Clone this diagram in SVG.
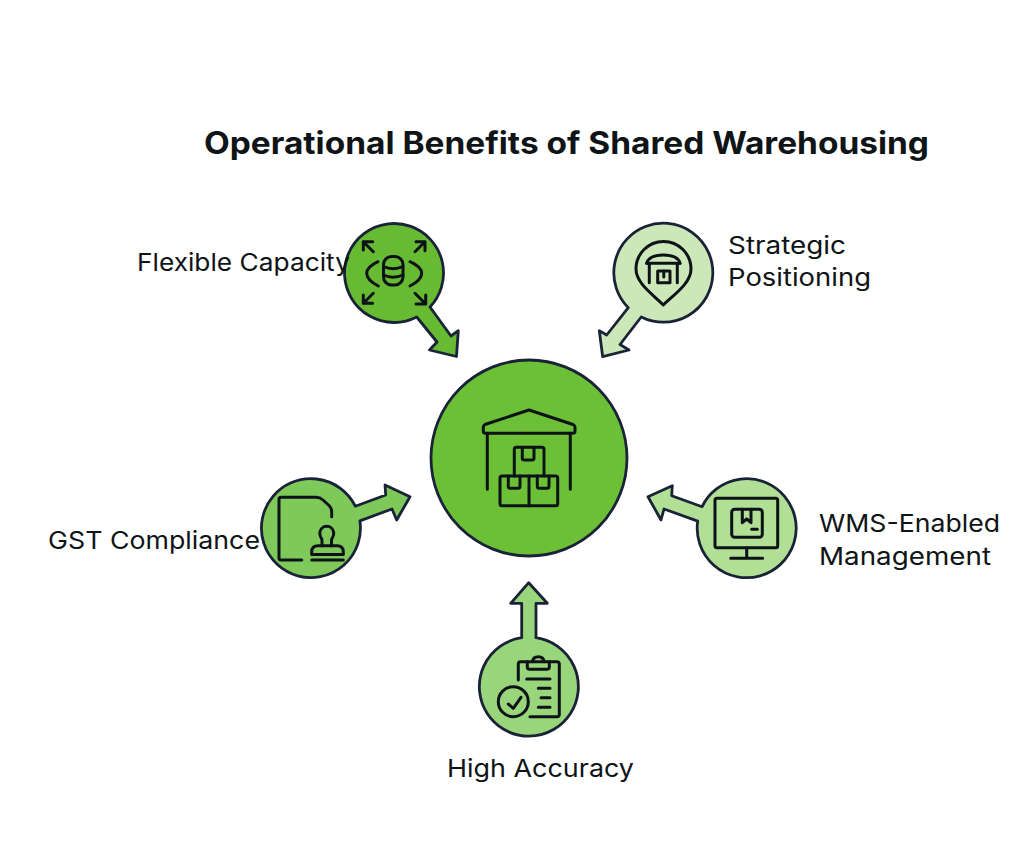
<svg xmlns="http://www.w3.org/2000/svg" width="1024" height="848" viewBox="0 0 1024 848">
<style>
.shape{stroke:#1a2238;stroke-width:2.8;stroke-linejoin:round}
.icon{fill:none;stroke:#0d1218;stroke-width:3;stroke-linecap:round;stroke-linejoin:round}
text{font-family:"Inter","Noto Sans","Liberation Sans",sans-serif;fill:#0f1416}
.label{font-size:24.5px;font-weight:400}
.title{font-size:31px;font-weight:700}
</style>
<rect width="1024" height="848" fill="#ffffff"/>
<text class="title" x="204" y="154" textLength="725" lengthAdjust="spacingAndGlyphs">Operational Benefits of Shared Warehousing</text>
<g id="connectors"></g>
<g id="node-center">
<circle class="shape" cx="529" cy="458" r="98" fill="#6cc035"/>
<g class="icon">
<path d="M487.3 489.3V433.3M570.3 489.3V433.3"/>
<path d="M529 410L573 424.5Q575 425.5 575 427V431Q575 433.3 573 433.3H485.5Q483.3 433.3 483.3 431V427Q483.3 425.5 485 424.5Z"/>
<path d="M514.3 476V449.5Q514.3 447.3 516.5 447.3H542Q544 447.3 544 449.5V476"/>
<path d="M522.3 447.3V458Q522.3 460 524.3 460H532Q534 460 534 458V447.3"/>
<rect x="500" y="476" width="57.7" height="29.7" rx="2"/>
<path d="M529 476V505.7"/>
<path d="M508.3 476V486.3Q508.3 488.3 510.3 488.3H518Q520 488.3 520 486.3V476"/>
<path d="M537.3 476V486.3Q537.3 488.3 539.3 488.3H547Q549 488.3 549 486.3V476"/>
</g>
</g>
<g id="node-flexible-capacity">
<path class="shape" fill="#66bb33" d="M416.7 317A49.5 49.5 0 1 1 430 307L451 336L458.3 330.7L456.5 356.5L429.5 350L437 342Z"/>
<g class="icon">
<rect x="383.5" y="256.5" width="19.5" height="28.5" rx="8"/>
<path d="M383.5 266.5Q393 271 403 266.5M383.5 275Q393 279.5 403 275"/>
<path d="M378 261.700Q366.700 267 366.700 273.300Q366.700 280 378.300 286M410 261.700Q421.700 267 421.700 273.300Q421.700 280 410 286"/>
<path d="M373.300 251.700L363.300 241.700M363.300 250V241.700H372.700"/>
<path d="M415 251.700L425 241.700M416 241.700H425V250.700"/>
<path d="M373.300 293.300L363.300 303.300M363.300 295V303.300H372.700"/>
<path d="M415 293.300L425.700 304M425.700 295V304H416"/>
</g>
<text class="label" x="137" y="271" textLength="213" lengthAdjust="spacingAndGlyphs">Flexible Capacity</text>
</g>
<g id="node-strategic-positioning">
<path class="shape" fill="#cde8b8" d="M641.200 317A49.500 49.500 0 1 0 628.300 307.700L606.700 335L599.300 330.700L602.700 356.700L629 350L620 344.500Z"/>
<g class="icon">
<path d="M663.300 305C655 296 636 284 636 269A27.500 27.500 0 0 1 691 269C691 284 672 296 663.300 305Z"/>
<path d="M646.700 263.300H680M649.300 263.300V282.700M677.300 263.300V282.700"/>
<path d="M646.700 263.300Q649 255 663.300 255Q678 255 680 263.300"/>
<rect x="657.700" y="271" width="12.300" height="11.700"/>
<path d="M663.800 271V277"/>
</g>
<text class="label" x="728" y="254" textLength="118" lengthAdjust="spacingAndGlyphs">Strategic</text>
<text class="label" x="728" y="286" textLength="143" lengthAdjust="spacingAndGlyphs">Positioning</text>
</g>
<g id="node-gst-compliance">
<path class="shape" fill="#7fc85a" d="M355.300 506.200A49.500 49.500 0 1 0 359.900 520.900L392 509L396.700 520L410 496.700L385 485L385.700 495Z"/>
<g class="icon">
<path d="M301.700 560H281Q279 560 279 558V499.500Q279 497.300 281 497.300H316Q320 497.300 323 500L329 505.500Q331.700 508 331.700 512V516.700"/>
<path d="M311.700 560H343.300"/>
<path d="M311.700 554.500V552Q311.700 545.700 318 545.700H337Q343.300 545.700 343.300 552V554.500Z"/>
<path d="M322 545.700V541Q322 539 321 537.500Q319.500 535 319.800 532.500A7 7 0 0 1 333.700 532.500Q334 535 332.500 537.500Q331.500 539 331.500 541V545.700"/>
</g>
<text class="label" x="48" y="549" textLength="212" lengthAdjust="spacingAndGlyphs">GST Compliance</text>
</g>
<g id="node-wms-management">
<path class="shape" fill="#b2df96" d="M702.100 506.700A49.500 49.500 0 1 1 697.700 521.100L664 509L661 520L648 496.700L672.300 485.700L671.700 495.700Z"/>
<g class="icon">
<rect x="715" y="498.300" width="62.700" height="49.400" rx="2"/>
<path d="M746.700 547.700V558.300M730.700 558.300H762.700"/>
<rect x="731.700" y="509.300" width="30.600" height="28" rx="3"/>
<path d="M742.300 509.300V522.700L746.700 519L751 522.700V509.300"/>
<path d="M751.700 529.300H757.300"/>
</g>
<text class="label" x="819" y="532" textLength="181" lengthAdjust="spacingAndGlyphs">WMS-Enabled</text>
<text class="label" x="819" y="565" textLength="172" lengthAdjust="spacingAndGlyphs">Management</text>
</g>
<g id="node-high-accuracy">
<path class="shape" fill="#99d57a" d="M521.700 637.700A49.500 49.500 0 1 0 536 637.700V603.300H547.300L528.700 582.700L510.700 603.300H521.700Z"/>
<g class="icon">
<path d="M518.300 680V664Q518.300 661.700 520.500 661.700H527.300M549.300 661.700H557Q559.300 661.700 559.300 664V714.500Q559.300 716.700 557 716.700H530"/>
<path d="M527.300 661.700H549.300V667Q549.300 669.300 547 669.300H529.500Q527.300 669.300 527.300 667Z"/>
<path d="M532.500 661.700Q533 656.700 538.300 656.700Q543.500 656.700 544 661.700"/>
<path d="M526.700 679H550M538.300 688.300H550M541 697.700H550M538.300 707.300H550"/>
<circle cx="513.300" cy="701.700" r="15"/>
<path d="M508.300 704L513.300 708.300L521 697.300"/>
</g>
<text class="label" x="447" y="777" textLength="187" lengthAdjust="spacingAndGlyphs">High Accuracy</text>
</g>
</svg>
